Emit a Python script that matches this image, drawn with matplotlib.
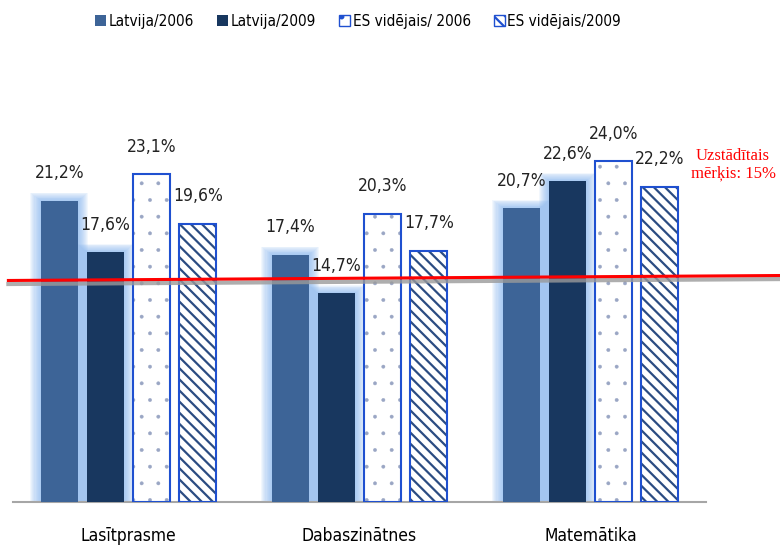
import matplotlib.pyplot as plt
from matplotlib.patches import Patch

categories = ['Lasītprasme', 'Dabaszinātnes', 'Matemātika']
series_names = ['Latvija/2006', 'Latvija/2009', 'ES vidējais/ 2006', 'ES vidējais/2009']
lv_2006 = [21.2, 17.4, 20.7]
lv_2009 = [17.6, 14.7, 22.6]
es_2006 = [23.1, 20.3, 24.0]
es_2009 = [19.6, 17.7, 22.2]
target_label = 'Uzstādītais\nmērķis: 15%'

plt.rcParams['font.family'] = ['DejaVu Sans']
plt.rcParams['font.stretch'] = 'condensed'

fig = plt.figure(figsize=(7.8, 5.48), dpi=100)
ax = fig.add_axes([13 / 780, 1 - 502 / 548, 693 / 780, 426 / 548])
ax.set_xlim(-0.5, 2.5)
ax.set_ylim(0, 30)

x = range(len(categories))
w = 0.16
offs = [-0.3, -0.1, 0.1, 0.3]
c_lv06 = '#3d6497'
c_lv09 = '#18375f'
c_edge = '#1f50d0'

# glow behind the Latvija bars
for vals, off in [(lv_2006, offs[0]), (lv_2009, offs[1])]:
    for k in range(10):
        grow = 0.0045 * (k + 1)
        ax.bar([i + off for i in x], [v + grow * 13 for v in vals], width=w + 2 * grow,
               color='#84b4f0', alpha=0.1, linewidth=0, zorder=1)

ax.bar([i + offs[0] for i in x], lv_2006, width=w, color=c_lv06, zorder=3)
ax.bar([i + offs[1] for i in x], lv_2009, width=w, color=c_lv09, zorder=3)

# ES bars: hatch layer then outline
plt.rcParams['hatch.linewidth'] = 0.3
ax.bar([i + offs[2] for i in x], es_2006, width=w, color='white', edgecolor='#9aa6c4',
       hatch='.', linewidth=0, zorder=3)
ax.bar([i + offs[2] for i in x], es_2006, width=w, color='none', edgecolor=c_edge,
       linewidth=1.5, zorder=4)
plt.rcParams['hatch.linewidth'] = 1.6
ax.bar([i + offs[3] for i in x], es_2009, width=w, color='white', edgecolor='#2b4c82',
       hatch='\\\\\\', linewidth=0, zorder=3)
ax.bar([i + offs[3] for i in x], es_2009, width=w, color='none', edgecolor=c_edge,
       linewidth=1.5, zorder=4)

for vals, off in zip([lv_2006, lv_2009, es_2006, es_2009], offs):
    for i, v in zip(x, vals):
        ax.text(i + off, v + 1.3, f'{v:.1f}%'.replace('.', ','), ha='center', va='bottom',
                fontsize=12.5, color='#222222', zorder=5)

# target line (slightly tilted as in the original) with grey shadow
ax.plot([-0.52, 2.82], [15.35, 15.70], color='#9a9a9a', linewidth=3, alpha=0.8,
        clip_on=False, zorder=5)
ax.plot([-0.52, 2.82], [15.60, 15.95], color='#ff0000', linewidth=2.2,
        clip_on=False, zorder=6)
ax.text(2.617, 23.75, target_label, ha='center', va='center', fontsize=12, color='#ff0000',
        family='Liberation Serif', fontstretch='normal', linespacing=1.05, clip_on=False)

for s in ['top', 'right', 'left']:
    ax.spines[s].set_visible(False)
ax.spines['bottom'].set_color('#a6a6a6')
ax.spines['bottom'].set_linewidth(1.5)
ax.set_yticks([])
ax.set_xticks(list(x))
ax.set_xticklabels(categories, fontsize=12.5)
ax.tick_params(axis='x', length=0, pad=18)

handles = [Patch(facecolor=c_lv06), Patch(facecolor=c_lv09),
           Patch(facecolor='white', edgecolor=c_edge, hatch='.'),
           Patch(facecolor='white', edgecolor=c_edge, hatch='\\\\\\')]
fig.legend(handles, series_names, loc='upper center', bbox_to_anchor=(0.459, 1.0), ncol=4,
           frameon=False, fontsize=11, handlelength=0.75, handleheight=0.8,
           handletextpad=0.15, columnspacing=1.5)

fig.savefig('out.png', dpi=100)
